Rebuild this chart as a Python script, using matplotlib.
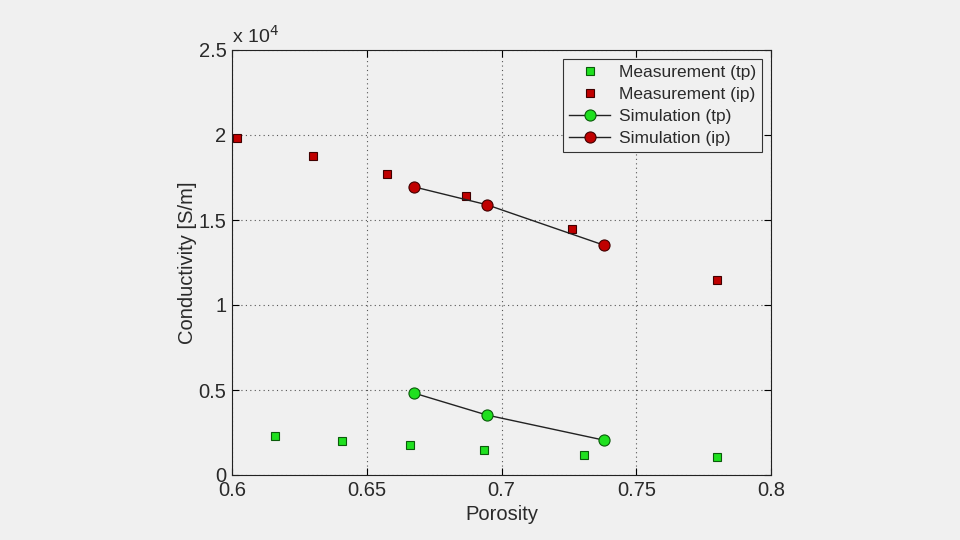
import numpy as np
import matplotlib.pyplot as plt

# --- data (conductivity in S/m) ---
meas_tp_x = [0.616, 0.641, 0.666, 0.6935, 0.7305, 0.780]
meas_tp_y = [2290, 2000, 1760, 1470, 1180, 1060]
meas_ip_x = [0.602, 0.630, 0.6575, 0.687, 0.726, 0.780]
meas_ip_y = [19800, 18750, 17700, 16400, 14450, 11500]
sim_x = [0.6675, 0.6945, 0.738]
sim_tp_y = [4820, 3530, 2050]
sim_ip_y = [16950, 15900, 13520]

bg = '#f0f0f0'
txt = '#2a2a2a'
plt.rcParams['font.family'] = ['Liberation Sans', 'DejaVu Sans']

fig = plt.figure(figsize=(9.6, 5.4), dpi=100, facecolor=bg)
ax = fig.add_axes([232/960, 1-475/540, (771-232)/960, (475-50)/540])
ax.set_facecolor(bg)

green = '#1fe01f'
red = '#c00000'
ax.plot(meas_tp_x, meas_tp_y, 's', color=green, mec='#0a5a0a', mew=0.8, ms=6,
        label='Measurement (tp)')
ax.plot(meas_ip_x, meas_ip_y, 's', color=red, mec='#400000', mew=0.8, ms=6,
        label='Measurement (ip)')
ax.plot(sim_x, sim_tp_y, '-o', color='#222222', lw=1, mfc=green, mec='#0a5a0a',
        mew=0.8, ms=8, label='Simulation (tp)')
ax.plot(sim_x, sim_ip_y, '-o', color='#222222', lw=1, mfc=red, mec='#400000',
        mew=0.8, ms=8, label='Simulation (ip)')

ax.set_xlim(0.6, 0.8)
ax.set_ylim(0, 25000)
ax.set_xticks(np.arange(0.6, 0.801, 0.05))
ax.set_xticklabels(['0.6', '0.65', '0.7', '0.75', '0.8'])
ax.set_yticks(np.arange(0, 25001, 5000))
ax.set_yticklabels(['0', '0.5', '1', '1.5', '2', '2.5'])
ax.text(0, 1.008, 'x 10$^4$', transform=ax.transAxes, fontsize=14,
        ha='left', va='bottom', color=txt)

ax.grid(True, linestyle=(0, (1, 3)), color='#555555', lw=0.8)
ax.tick_params(direction='in', labelsize=14.5, length=5, top=True, right=True,
               labelcolor=txt, pad=4)
for s in ax.spines.values():
    s.set_color('#222222')
    s.set_linewidth(0.8)

ax.set_xlabel('Porosity', fontsize=14.5, labelpad=4, color=txt)
ax.set_ylabel('Conductivity [S/m]', fontsize=14.5, labelpad=1, color=txt)

leg = ax.legend(loc='upper right', fontsize=12.5, fancybox=False, framealpha=1,
                facecolor=bg, edgecolor='#333333', handlelength=2.4,
                handletextpad=0.5, borderaxespad=0.5, labelspacing=0.4,
                borderpad=0.35)
leg.get_frame().set_linewidth(0.8)
for t in leg.get_texts():
    t.set_color(txt)

fig.savefig('out.png', dpi=100, facecolor=bg)
